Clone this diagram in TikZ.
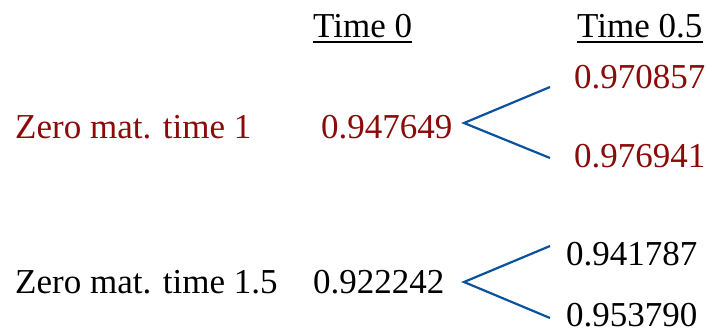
\documentclass[tikz,border=0pt]{standalone}
\usepackage{fontspec}
\setmainfont{Liberation Serif}
\definecolor{darkred}{RGB}{139,10,10}
\definecolor{lineblue}{RGB}{10,82,155}
\begin{document}
\begin{tikzpicture}[x=1bp,y=-1bp,
  txt/.style={anchor=base west,inner sep=0pt,font=\fontsize{35bp}{40bp}\selectfont},
  red/.style={txt,text=darkred},
  branch/.style={draw=lineblue,line width=2.2bp},
  uline/.style={line width=2.2bp}]
\useasboundingbox (0,0) rectangle (707,333);
\node[txt] (t0) at (313,37) {Time 0};
\node[txt] (t05) at (577,37) {Time 0.5};
\draw[uline] ([yshift=-5bp]t0.base west) -- ([yshift=-5bp]t0.base east);
\draw[uline] ([yshift=-5bp]t05.base west) -- ([yshift=-5bp]t05.base east);
% first tree
\node[red] (l1) at (15,138) {Zero mat. time 1};
\node[red] (v1) at (321,138) {0.947649};
\node[red] (u1) at (574,88) {0.970857};
\node[red] (d1) at (574,167) {0.976941};
\coordinate (a1) at (464,123);
\coordinate (a1u) at (550,87);
\coordinate (a1d) at (550,158);
\draw[branch] (a1u) -- (a1) -- (a1d);
% second tree
\node[txt] (l2) at (15,293) {Zero mat. time 1.5};
\node[txt] (v2) at (313,293) {0.922242};
\node[txt] (u2) at (566,265) {0.941787};
\node[txt] (d2) at (566,326) {0.953790};
\coordinate (a2) at (464,282);
\coordinate (a2u) at (550,246);
\coordinate (a2d) at (550,318);
\draw[branch] (a2u) -- (a2) -- (a2d);
\end{tikzpicture}
\end{document}
